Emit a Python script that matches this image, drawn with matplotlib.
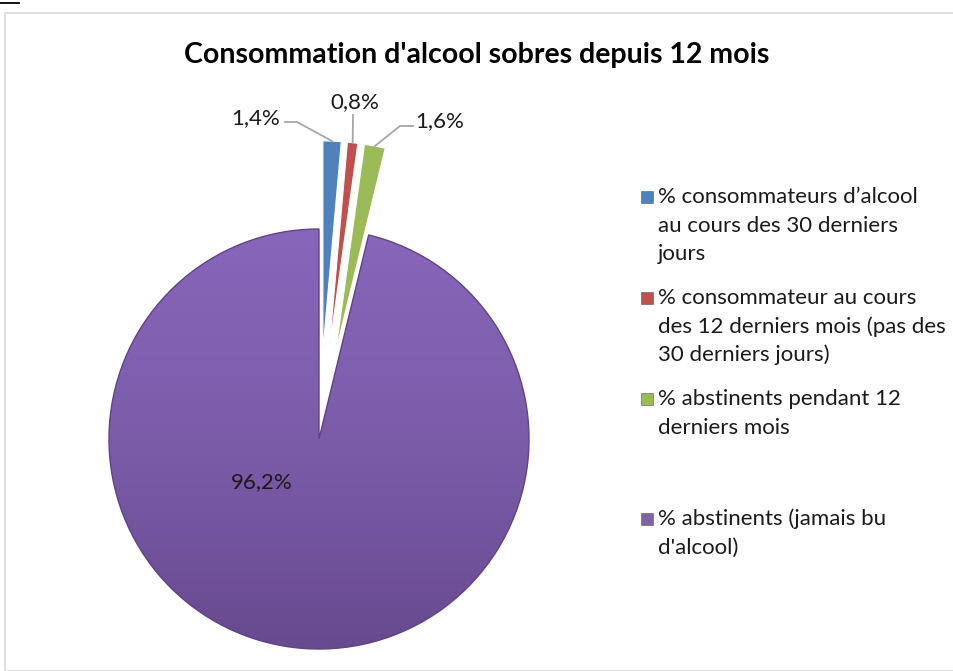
import numpy as np
import matplotlib.pyplot as plt
from matplotlib.patches import Rectangle
from matplotlib.colors import LinearSegmentedColormap

plt.rcParams['font.family'] = ['Lato', 'DejaVu Sans']

# data
title = "Consommation d'alcool sobres depuis 12 mois"
categories = ["% consommateurs d\u2019alcool\nau cours des 30 derniers\njours",
              "% consommateur au cours\ndes 12 derniers mois (pas des\n30 derniers jours)",
              "% abstinents pendant 12\nderniers mois",
              "% abstinents (jamais bu\nd'alcool)"]
values = [1.4, 0.8, 1.6, 96.2]
value_labels = ["1,4%", "0,8%", "1,6%", "96,2%"]
colors = ["#4F81BD", "#C0504D", "#9BBB59", "#8064A2"]
explode = [0.42, 0.42, 0.42, 0.0]  # fraction of radius

# canvas in pixel units (1 data unit = 1 px, y from bottom)
W, H = 954, 671
fig = plt.figure(figsize=(W / 100, H / 100), dpi=100)
ax = fig.add_axes([0, 0, 1, 1])
cx, cy, R = 319, H - 439, 210

wedges, _ = ax.pie(values, colors=colors, explode=[e * R for e in explode], startangle=90,
                   counterclock=False, center=(cx, cy), radius=R,
                   wedgeprops=dict(edgecolor='white', linewidth=0.8))

# soft vertical shading on the big slice
big = wedges[3]
cmap = LinearSegmentedColormap.from_list('purp', ['#8866BB', '#7B5CA9', '#684A90'])
grad = np.linspace(0, 1, 256).reshape(-1, 1)
im = ax.imshow(grad, cmap=cmap, extent=(cx - R, cx + R, cy - R, cy + R),
               origin='upper', aspect='auto', zorder=1.5)
im.set_clip_path(big)
big.set_edgecolor('#5E4484')
big.set_linewidth(1.0)
big.set_zorder(1.6)
big.set_facecolor('none')

ax.set_xlim(0, W)
ax.set_ylim(0, H)
ax.axis('off')

# data labels with leader lines for the exploded slices
lab_pos = [(256, H - 118), (355, H - 102), (440, H - 121)]
elbows = [(297, H - 122), (353, H - 115), (400, H - 126)]
ends = [(285, H - 122), None, (413, H - 126)]
for i in range(3):
    w = wedges[i]
    mid = np.deg2rad((w.theta1 + w.theta2) / 2)
    tip = (w.center[0] + w.r * np.cos(mid), w.center[1] + w.r * np.sin(mid))
    xs = [tip[0], elbows[i][0]]
    ys = [tip[1], elbows[i][1]]
    if ends[i] is not None:
        xs.append(ends[i][0])
        ys.append(ends[i][1])
    ax.plot(xs, ys, color='#A6A6A6', lw=1.3, zorder=3)
    ax.text(lab_pos[i][0], lab_pos[i][1], value_labels[i], ha='center', va='center',
            fontsize=16, color='#1A1A1A')
ax.text(262, H - 482, value_labels[3], ha='center', va='center', fontsize=16, color='#1A1A1A')

# title
ax.text(477, H - 55, title, ha='center', va='center', fontsize=20.5, fontweight='bold')

# legend drawn by hand
leg_y = [197, 298, 399, 519]
for lab, col, y0 in zip(categories, colors, leg_y):
    ax.plot([647], [H - y0], marker='s', ms=8, color=col, mec='#555555', mew=0.4,
            zorder=4, clip_on=False)
    for j, line in enumerate(lab.split('\n')):
        ax.text(658, H - y0 - j * 28.5, line, ha='left', va='center', fontsize=16,
                color='#1A1A1A')

# chart frame and page remnants
fig.patches.append(Rectangle((5 / W, 0), 1, 1 - 13 / H, transform=fig.transFigure,
                             fill=False, edgecolor='#D9D9D9', lw=1.2))
fig.lines.append(plt.Line2D([0, 19 / W], [1 - 3 / H, 1 - 3 / H], transform=fig.transFigure,
                            color='black', lw=1.3))

fig.savefig('out.png', dpi=100)
